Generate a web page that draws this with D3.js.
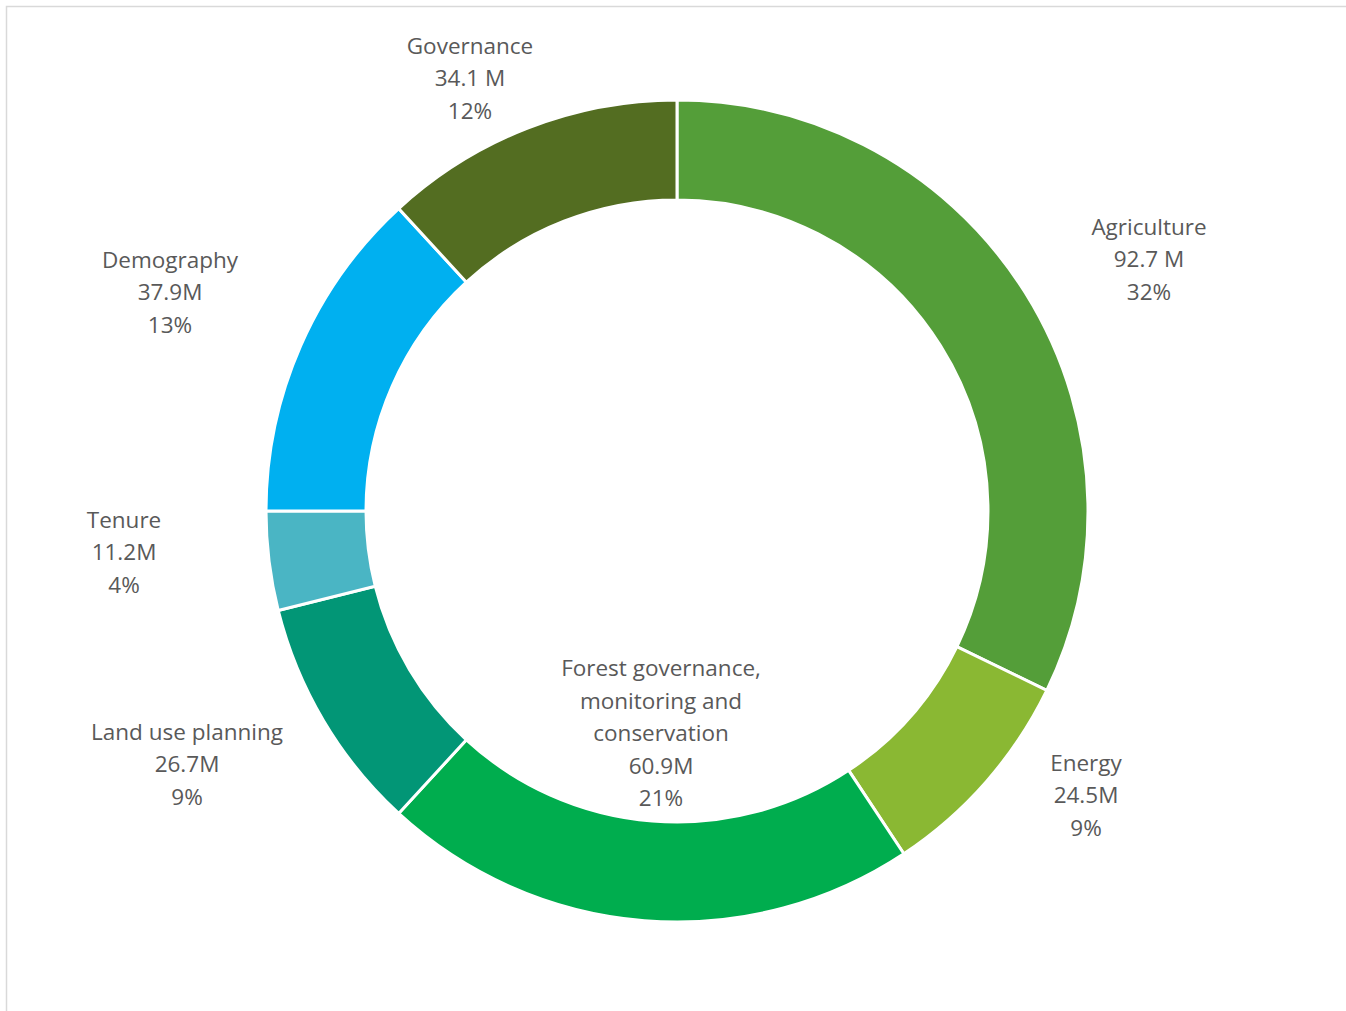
<!DOCTYPE html>
<html>
<head>
<meta charset="utf-8">
<script src="https://cdn.jsdelivr.net/npm/d3@7"></script>
<style>
  html, body { margin: 0; padding: 0; background: #ffffff; }
  svg { display: block; }
</style>
</head>
<body>
<svg id="chart" width="1346" height="1011"></svg>
<script>
// Funding by sector (USD, millions)
const categories = ["Agriculture", "Energy", "Forest governance, monitoring and conservation",
                    "Land use planning", "Tenure", "Demography", "Governance"];
const values = [92.7, 24.5, 60.9, 26.7, 11.2, 37.9, 34.1];
const valueLabels = ["92.7 M", "24.5M", "60.9M", "26.7M", "11.2M", "37.9M", "34.1 M"];
const colors = ["#549e39", "#8ab833", "#00ad4e", "#029676", "#4ab5c4", "#00b0f0", "#536d21"];

// label name lines (long names wrap as in the chart)
const nameLines = [["Agriculture"], ["Energy"], ["Forest governance,", "monitoring and", "conservation"],
                   ["Land use planning"], ["Tenure"], ["Demography"], ["Governance"]];
// label block centre, relative to the donut centre
const labelOffsets = [[472, -252], [409, 284], [-16, 222], [-490, 253], [-553, 41], [-507, -219], [-207, -433]];

const W = 1346, H = 1011;
const cx = 677, cy = 511, outerR = 411, innerR = 311;
const lineH = 32.6;

const svg = d3.select("#chart");

// frame
svg.append("rect")
  .attr("x", 6.5).attr("y", 6.5)
  .attr("width", W + 20).attr("height", H + 20)
  .attr("fill", "none").attr("stroke", "#d9d9d9").attr("stroke-width", 1.5);

const total = d3.sum(values);
const data = categories.map((c, i) => ({ name: c, value: values[i], label: valueLabels[i], color: colors[i], lines: nameLines[i], off: labelOffsets[i] }));

const pie = d3.pie().value(d => d.value).sort(null);
const arc = d3.arc().innerRadius(innerR).outerRadius(outerR);

const g = svg.append("g").attr("transform", `translate(${cx},${cy})`);

g.selectAll("path.slice")
  .data(pie(data))
  .join("path")
  .attr("class", "slice")
  .attr("d", arc)
  .attr("fill", d => d.data.color)
  .attr("stroke", "#ffffff")
  .attr("stroke-width", 3)
  .attr("stroke-linejoin", "miter");

const pct = d3.format(".0%");

const labels = g.selectAll("text.lbl")
  .data(data)
  .join("text")
  .attr("class", "lbl")
  .attr("text-anchor", "middle")
  .attr("font-family", "'Open Sans', Lato, sans-serif")
  .attr("font-size", 22.5)
  .attr("fill", "#595959");

labels.each(function (d) {
  const lines = [...d.lines, d.label, pct(d.value / total)];
  const n = lines.length;
  const t = d3.select(this);
  lines.forEach((s, k) => {
    t.append("tspan")
      .attr("x", d.off[0])
      .attr("y", d.off[1] + (k - (n - 1) / 2) * lineH)
      .attr("dy", "0.36em")
      .text(s);
  });
});
</script>
</body>
</html>
